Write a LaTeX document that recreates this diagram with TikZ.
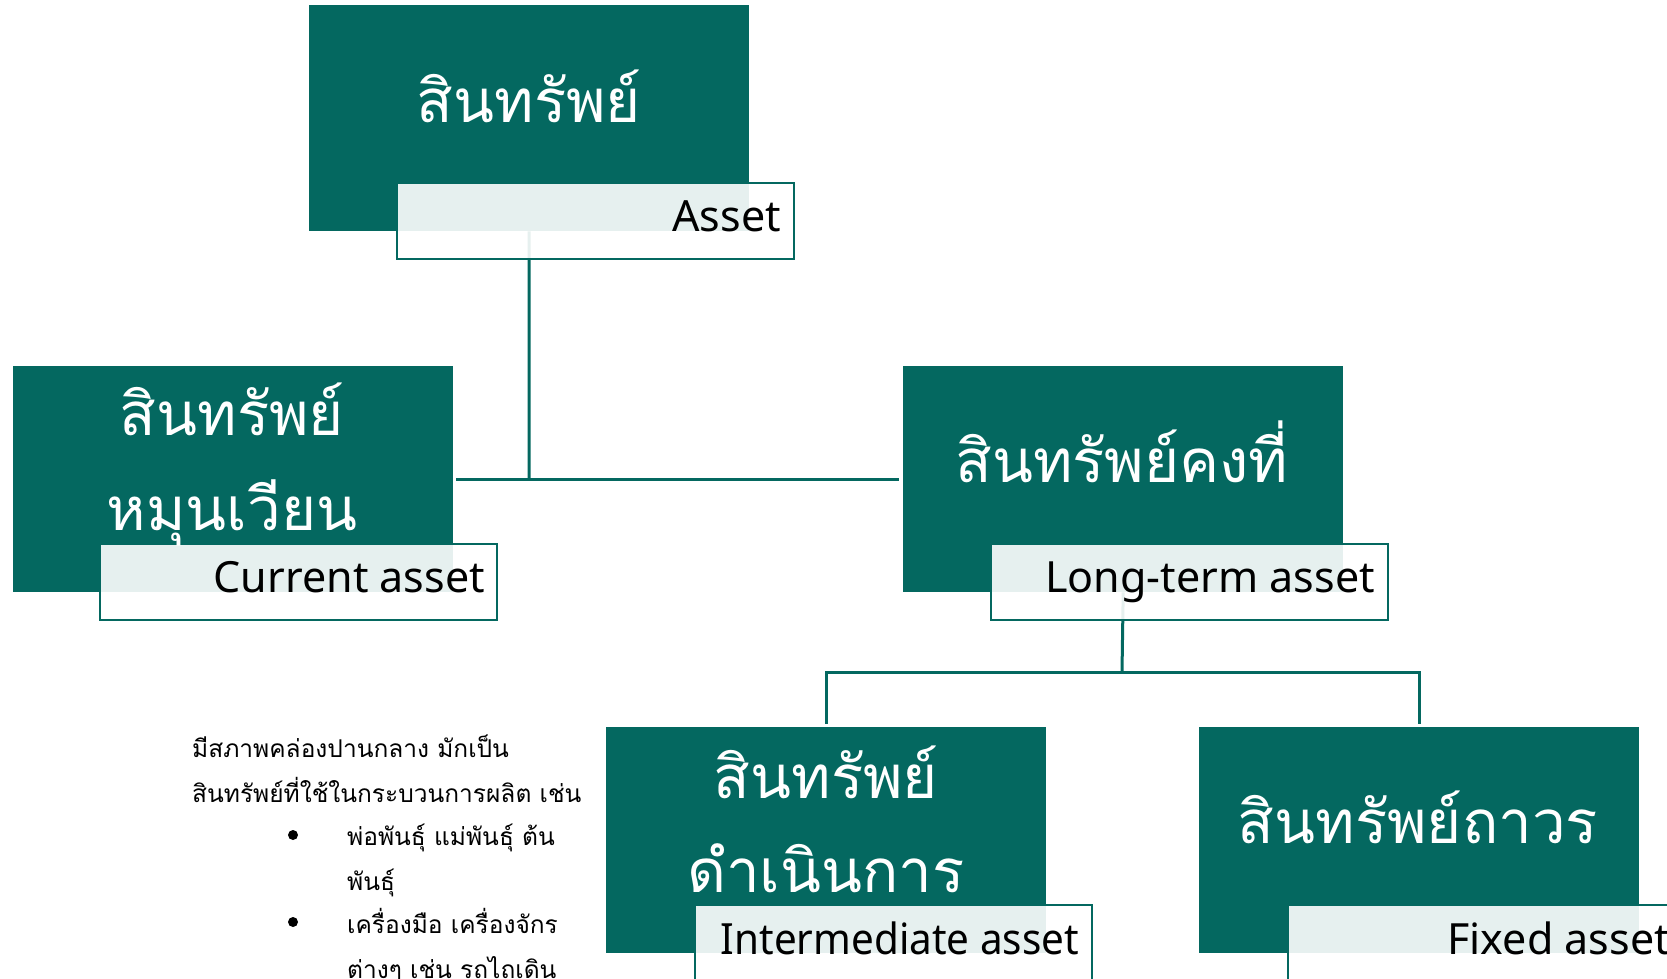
\documentclass[tikz,border=0pt]{standalone}
\usepackage{fontspec}
\setmainfont{Noto Sans}
\newfontfamily\thaifont[Script=Thai]{Loma}
\definecolor{dteal}{HTML}{046860}
\tikzset{
  darkbox/.style={fill=dteal, draw=none, minimum width=440pt, minimum height=226pt, inner sep=0pt, anchor=north west},
  lblbox/.style={draw=dteal, line width=2pt, fill=white, fill opacity=0.9, minimum width=397pt, minimum height=76pt, inner sep=0pt, anchor=north west},
  conn/.style={draw=dteal, line width=3pt},
  head/.style={text=white, font=\thaifont\fontsize{60}{95}\selectfont, anchor=base, inner sep=0pt},
  lbltext/.style={text=black, font=\fontsize{43}{50}\selectfont, anchor=base east, inner sep=0pt},
  body/.style={text=black, font=\thaifont\fontsize{24.5}{44}\selectfont, anchor=base west, inner sep=0pt},
  bullet/.style={circle, fill=black, inner sep=0pt, minimum size=10pt}
}
\begin{document}
\begin{tikzpicture}[x=1pt,y=-1pt]
\useasboundingbox (0,0) rectangle (1667,978);
% dark boxes
\node[darkbox] (a) at (309,5) {};
\node[darkbox] (c) at (13,366) {};
\node[darkbox] (l) at (903,366) {};
\node[darkbox] (i) at (606,727) {};
\node[darkbox] (f) at (1199,727) {};
% connectors
\coordinate (j1) at (529,479);
\coordinate (j2) at (1122,672);
\draw[conn] (a.south) -- (j1);
\draw[conn] ([xshift=3pt]c.east) -- ([xshift=-4pt]l.west);
\draw[conn] (l.south) -- (j2);
\draw[conn] ([yshift=3pt]i.north) |- (j2) -| ([yshift=3pt]f.north);
% label boxes
\node[lblbox] (al) at (396,182) {};
\node[lblbox] (cl) at (99,543) {};
\node[lblbox] (ll) at (990,543) {};
\node[lblbox] (il) at (694,904) {};
\node[lblbox] (fl) at (1287,904) {};
% headings
\node[head] (at) at (529,122) {สินทรัพย์};
\node[head] (ct1) at (232,435) {สินทรัพย์};
\node[head] (ct2) at (232,530) {หมุนเวียน};
\node[head] (lt) at (1122,482) {สินทรัพย์คงที่};
\node[head] (it1) at (826,798) {สินทรัพย์};
\node[head] (it2) at (826,892) {ดำเนินการ};
\node[head] (ft) at (1418,843) {สินทรัพย์ถาวร};
% label texts
\node[lbltext] (alt) at (781,231) {Asset};
\node[lbltext] (clt) at (485,592) {Current asset};
\node[lbltext] (llt) at (1375,592) {Long-term asset};
\node[lbltext] (ilt) at (1079,954) {\scalebox{0.94}[1]{Intermediate asset}};
\node[lbltext] (flt) at (1670,954) {Fixed asset};
% description
\node[body] (d1) at (192,757) {มีสภาพคล่องปานกลาง มักเป็น};
\node[body] (d2) at (192,802) {สินทรัพย์ที่ใช้ในกระบวนการผลิต เช่น};
\node[bullet] (b1) at (293,835) {};
\node[body] (d3) at (347,845) {พ่อพันธุ์ แม่พันธุ์ ต้น};
\node[body] (d4) at (347,890) {พันธุ์};
\node[bullet] (b2) at (293,922) {};
\node[body] (d5) at (347,933) {เครื่องมือ เครื่องจักร};
\node[body] (d6) at (347,978) {ต่างๆ เช่น รถไถเดิน};
\end{tikzpicture}
\end{document}
